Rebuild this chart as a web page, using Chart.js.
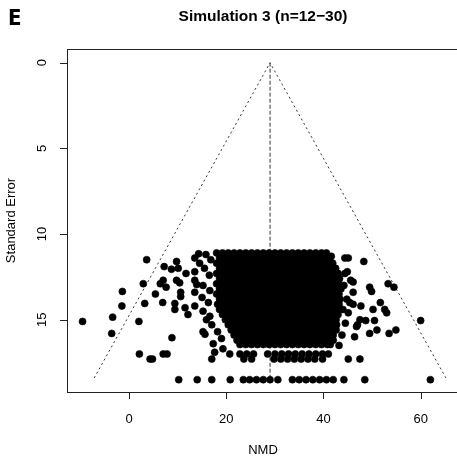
<!DOCTYPE html>
<html>
<head>
<meta charset="utf-8">
<script src="https://cdn.jsdelivr.net/npm/chart.js@4.4.1/dist/chart.umd.min.js"></script>
<style>
  html, body { margin: 0; padding: 0; background: #fff; overflow: hidden; }
  #wrap { position: relative; width: 457px; height: 461px; overflow: hidden; }
  #wrap canvas { position: absolute; left: 0; top: 0; }
</style>
</head>
<body>
<div id="wrap"><canvas id="chart" width="470" height="461"></canvas></div>
<script>
/* ─── Funnel plot: Simulation 3 (n=12-30) ───────────────────── */

// Standard-error levels of the rows of studies, top to bottom
const rowSE = [11.1, 11.4, 11.7, 12.0, 12.3, 12.6, 12.9, 13.2, 13.5, 13.8,
               14.1, 14.4, 14.7, 15.0, 15.3, 15.6, 15.9, 16.2, 16.45,
               17.0, 17.3, 18.5];

// NMD values of the studies on each row (same order as rowSE)
const rowNMD = [
  [18.0,19.2,20.4,21.6,22.8,24.0,25.2,26.4,27.6,28.8,30.0,31.2,32.4,33.6,34.8,36.0,37.2,38.4,39.6,40.6],
  [18.6,19.8,21.0,22.2,23.4,24.6,25.8,27.0,28.2,29.4,30.6,31.8,33.0,34.2,35.4,36.6,37.8,39.0,40.2,41.3],
  [18.0,19.2,20.4,21.6,22.8,24.0,25.2,26.4,27.6,28.8,30.0,31.2,32.4,33.6,34.8,36.0,37.2,38.4,39.6,40.8,41.9],
  [18.6,19.8,21.0,22.2,23.4,24.6,25.8,27.0,28.2,29.4,30.6,31.8,33.0,34.2,35.4,36.6,37.8,39.0,40.2,41.4,42.5],
  [18.0,19.2,20.4,21.6,22.8,24.0,25.2,26.4,27.6,28.8,30.0,31.2,32.4,33.6,34.8,36.0,37.2,38.4,39.6,40.8,42.0,42.9],
  [18.6,19.8,21.0,22.2,23.4,24.6,25.8,27.0,28.2,29.4,30.6,31.8,33.0,34.2,35.4,36.6,37.8,39.0,40.2,41.4,42.6,43.3],
  [18.0,19.2,20.4,21.6,22.8,24.0,25.2,26.4,27.6,28.8,30.0,31.2,32.4,33.6,34.8,36.0,37.2,38.4,39.6,40.8,42.0,43.2],
  [18.6,19.8,21.0,22.2,23.4,24.6,25.8,27.0,28.2,29.4,30.6,31.8,33.0,34.2,35.4,36.6,37.8,39.0,40.2,41.4,42.6,43.6],
  [18.0,19.2,20.4,21.6,22.8,24.0,25.2,26.4,27.6,28.8,30.0,31.2,32.4,33.6,34.8,36.0,37.2,38.4,39.6,40.8,42.0,43.2],
  [18.6,19.8,21.0,22.2,23.4,24.6,25.8,27.0,28.2,29.4,30.6,31.8,33.0,34.2,35.4,36.6,37.8,39.0,40.2,41.4,42.6,43.4],
  [18.2,19.2,20.4,21.6,22.8,24.0,25.2,26.4,27.6,28.8,30.0,31.2,32.4,33.6,34.8,36.0,37.2,38.4,39.6,40.8,42.0,43.2],
  [18.6,19.8,21.0,22.2,23.4,24.6,25.8,27.0,28.2,29.4,30.6,31.8,33.0,34.2,35.4,36.6,37.8,39.0,40.2,41.4,42.6,43.2],
  [19.2,20.4,21.6,22.8,24.0,25.2,26.4,27.6,28.8,30.0,31.2,32.4,33.6,34.8,36.0,37.2,38.4,39.6,40.8,42.0,43.0],
  [19.8,21.0,22.2,23.4,24.6,25.8,27.0,28.2,29.4,30.6,31.8,33.0,34.2,35.4,36.6,37.8,39.0,40.2,41.4,42.6],
  [20.4,21.6,22.8,24.0,25.2,26.4,27.6,28.8,30.0,31.2,32.4,33.6,34.8,36.0,37.2,38.4,39.6,40.8,42.0,42.7],
  [21.0,22.2,23.4,24.6,25.8,27.0,28.2,29.4,30.6,31.8,33.0,34.2,35.4,36.6,37.8,39.0,40.2,41.4,42.6],
  [21.6,22.8,24.0,25.2,26.4,27.6,28.8,30.0,31.2,32.4,33.6,34.8,36.0,37.2,38.4,39.6,40.8,42.0],
  [22.2,23.4,24.6,25.8,27.0,28.2,29.4,30.6,31.8,33.0,34.2,35.4,36.6,37.8,39.0,40.2,41.4,42.0],
  [22.8,24.0,25.2,26.4,27.6,28.8,30.0,31.2,32.4,33.6,34.8,36.0,37.2,38.4,39.6,40.8,41.4],
  [2.1,7.0,7.8,20.7,22.8,24.2,25.6,28.5,30.0,31.4,32.8,34.2,35.6,37.0,38.4,39.8,41.0],
  [4.3,4.8,17.0,23.6,25.2,29.8,31.2,32.6,34.0,35.4,36.8,38.2,39.8,45.1,47.5],
  [10.2,14.0,17.0,20.8,23.5,24.8,26.2,27.6,29.0,30.6,33.6,35.0,36.4,37.8,39.2,40.6,42.0,44.2,48.5,62.0],
];

// Scattered studies around the dense core
const outlierNMD = [
  -9.6,-3.4,-3.6,-1.4,-1.5,3.6,2.9,3.2,2.0,8.8,5.4,6.9,7.2,8.7,9.75,10.1,6.4,7.0,7.6,9.75,
  10.4,11.7,10.6,10.6,9.4,9.4,11.5,12.1,13.5,
  13.5,13.5,13.9,13.5,14.5,13.5,14.3,15.8,16.8,15.5,16.5,15.2,16.6,15.0,16.3,15.2,16.6,15.9,
  17.0,15.2,15.6,18.2,17.3,19.0,19.3,17.6,
  41.6,44.4,45.1,48.3,43.0,44.4,44.9,45.6,46.1,46.1,44.2,44.8,49.5,49.9,53.3,54.5,45.4,46.1,
  47.7,51.7,44.0,45.1,50.2,52.6,53.0,44.5,47.5,47.0,48.7,50.5,60.0,46.8,49.5,51.0,53.5,54.9,
  43.8,46.4,43.2
];
const outlierSE = [
  15.1,14.85,15.8,13.35,14.2,11.5,12.9,14.05,15.1,16.05,13.5,14.0,11.9,12.05,11.6,12.0,12.9,12.7,13.1,12.7,
  12.85,12.3,13.4,13.65,14.05,14.4,14.3,14.7,14.2,
  13.4,12.7,12.95,11.4,11.7,12.2,11.15,11.2,11.5,12.0,12.4,13.0,13.3,13.7,14.0,14.5,14.8,15.0,
  15.3,15.7,15.85,15.7,16.4,16.1,16.7,16.9,
  11.3,11.4,11.4,11.6,12.3,12.3,12.2,12.7,12.8,13.4,13.0,13.8,13.1,13.35,12.9,13.1,14.0,14.1,
  14.2,14.0,14.4,14.6,14.4,14.4,14.6,15.2,15.0,15.3,15.05,15.05,15.05,15.4,15.8,15.6,15.8,15.6,
  15.9,16.0,16.5
];

// Funnel (pseudo 95% limits) and centre line
const funnelNMD = [-7.2, 29, 65.2];
const funnelSE  = [18.4, 0, 18.4];
const centreNMD = [29, 29];
const centreSE  = [0, 18.5];

// Axis ticks
const xTicks = [0, 20, 40, 60];
const yTicks = [0, 5, 10, 15];

const studies = [];
rowSE.forEach((se, i) => rowNMD[i].forEach(v => studies.push({ x: v, y: se })));
outlierNMD.forEach((v, i) => studies.push({ x: v, y: outlierSE[i] }));

const AXIS_FONT = '13px "Liberation Sans", Arial, Helvetica, sans-serif';

// R-style box, tick marks and labels
const frame = {
  id: 'frame',
  afterDraw(chart) {
    const { ctx, chartArea: a, scales: { x, y } } = chart;
    ctx.save();
    ctx.strokeStyle = '#222';
    ctx.lineWidth = 1;
    ctx.strokeRect(a.left + 0.5, a.top + 0.5, a.right - a.left, a.bottom - a.top);

    ctx.beginPath();
    xTicks.forEach(v => {
      const px = Math.round(x.getPixelForValue(v)) + 0.5;
      ctx.moveTo(px, a.bottom); ctx.lineTo(px, a.bottom + 7);
    });
    yTicks.forEach(v => {
      const py = Math.round(y.getPixelForValue(v)) + 0.5;
      ctx.moveTo(a.left, py); ctx.lineTo(a.left - 7, py);
    });
    ctx.stroke();

    ctx.fillStyle = '#000';
    ctx.font = AXIS_FONT;
    ctx.textAlign = 'center';
    ctx.textBaseline = 'alphabetic';
    xTicks.forEach(v => ctx.fillText(String(v), x.getPixelForValue(v), 423));
    yTicks.forEach(v => {
      ctx.save();
      ctx.translate(46, y.getPixelForValue(v));
      ctx.rotate(-Math.PI / 2);
      ctx.fillText(String(v), 0, 0);
      ctx.restore();
    });

    ctx.fillText('NMD', 263, 454);
    ctx.save();
    ctx.translate(15, (a.top + a.bottom) / 2);
    ctx.rotate(-Math.PI / 2);
    ctx.fillText('Standard Error', 0, 0);
    ctx.restore();

    ctx.font = 'bold 15.5px "Liberation Sans", Arial, Helvetica, sans-serif';
    ctx.fillText('Simulation 3 (n=12\u221230)', 263, 21);

    ctx.font = 'bold 22px "Liberation Sans Narrow", "DejaVu Sans Condensed", sans-serif';
    ctx.textAlign = 'left';
    ctx.fillText('E', 8, 25);
    ctx.restore();
  }
};

new Chart(document.getElementById('chart').getContext('2d'), {
  type: 'scatter',
  data: {
    datasets: [
      {
        label: 'Funnel',
        data: funnelNMD.map((v, i) => ({ x: v, y: funnelSE[i] })),
        order: 2,
        showLine: true,
        pointRadius: 0,
        borderColor: '#333',
        borderWidth: 1,
        borderDash: [2, 3],
        fill: false,
      },
      {
        label: 'Centre',
        data: centreNMD.map((v, i) => ({ x: v, y: centreSE[i] })),
        order: 2,
        showLine: true,
        pointRadius: 0,
        borderColor: '#333',
        borderWidth: 1,
        borderDash: [4, 2],
        fill: false,
      },
      {
        label: 'Studies',
        data: studies,
        order: 0,
        pointRadius: 3.5,
        pointHoverRadius: 3.5,
        backgroundColor: '#000',
        borderColor: '#000',
        borderWidth: 0.6,
      },
    ],
  },
  options: {
    responsive: false,
    animation: false,
    events: [],
    layout: { padding: { left: 67, top: 49, right: 10, bottom: 69 } },
    plugins: { legend: { display: false }, tooltip: { enabled: false } },
    scales: {
      x: { type: 'linear', min: -12.8, max: 68.1, display: false },
      y: { type: 'linear', reverse: true, min: -0.8, max: 19.22, display: false },
    },
  },
  plugins: [frame],
});
</script>
</body>
</html>
